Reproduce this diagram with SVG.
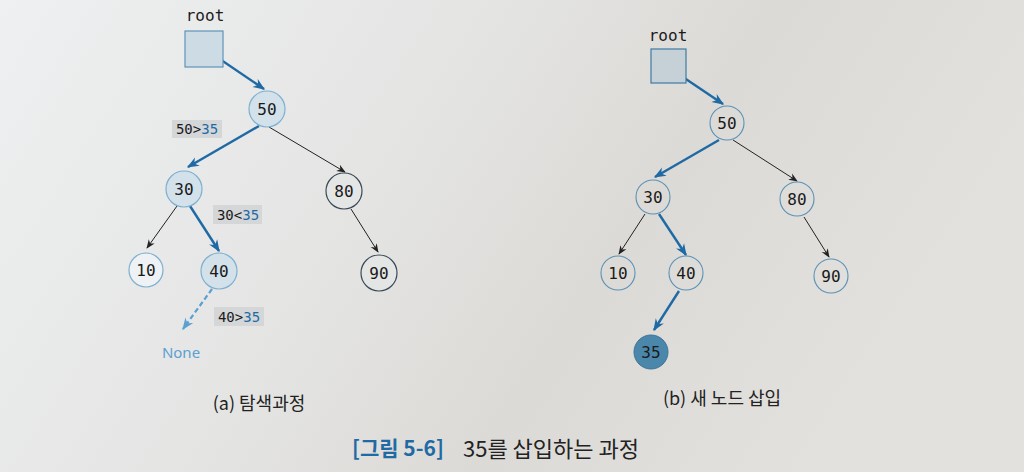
<svg xmlns="http://www.w3.org/2000/svg" width="1024" height="472" viewBox="0 0 1024 472">
<defs>
<linearGradient id="bg" x1="0" y1="0" x2="1" y2="0.3">
<stop offset="0" stop-color="#eef0f1"/>
<stop offset="0.45" stop-color="#e4e4e3"/>
<stop offset="0.7" stop-color="#dcdad6"/>
<stop offset="1" stop-color="#e2e1de"/>
</linearGradient>
<marker id="ak" viewBox="0 0 10 10" refX="9" refY="5" markerWidth="9" markerHeight="9" orient="auto" markerUnits="userSpaceOnUse">
<path d="M0,1 L10,5 L0,9 L3,5 z" fill="#222"/>
</marker>
<marker id="abl" viewBox="0 0 10 10" refX="9" refY="5" markerWidth="12" markerHeight="12" orient="auto" markerUnits="userSpaceOnUse">
<path d="M0,1 L10,5 L0,9 L3,5 z" fill="#1f6aa5"/>
</marker>
<marker id="ad" viewBox="0 0 10 10" refX="9" refY="5" markerWidth="12" markerHeight="12" orient="auto" markerUnits="userSpaceOnUse">
<path d="M0,1 L10,5 L0,9 L3,5 z" fill="#5aa0d2"/>
</marker>
</defs>
<style>
.mono{font-family:"DejaVu Sans Mono","Liberation Mono",monospace;font-size:16px;fill:#1a1a1a;text-anchor:middle;dominant-baseline:central}
.blue{stroke:#1f6aa5;stroke-width:2.4;fill:none}
.thin{stroke:#222;stroke-width:1;fill:none}
.nodeA{fill:#d2e1ea;stroke:#7eb0cf;stroke-width:1.2}
.nodeW{fill:#eef2f4;stroke:#7eb0cf;stroke-width:1.2}
.nodeK{fill:#e4e5e5;stroke:#3a4a55;stroke-width:1.2}
.nodeB{fill:none;stroke:#5a92b5;stroke-width:1.1}
.lbl{fill:#d4d6d8}
.cap{font-family:"Noto Sans CJK KR","Noto Sans",sans-serif;font-size:18px;fill:#222;text-anchor:middle;dominant-baseline:central}
.v35{fill:#1f6aa5}
</style>
<rect width="1024" height="472" fill="url(#bg)"/>

<g id="connectors">
<line class="blue" x1="205" y1="49" x2="264" y2="89" marker-end="url(#abl)"/>
<line class="blue" x1="259" y1="126" x2="188" y2="167" marker-end="url(#abl)"/>
<line class="thin" x1="269" y1="127" x2="345" y2="172" marker-end="url(#ak)"/>
<line class="thin" x1="177" y1="206" x2="147" y2="248" marker-end="url(#ak)"/>
<line class="blue" x1="190" y1="206" x2="219" y2="251" marker-end="url(#abl)"/>
<line class="thin" x1="351" y1="209" x2="378" y2="252" marker-end="url(#ak)"/>
<line stroke="#5aa0d2" stroke-width="2.2" stroke-dasharray="5,3" fill="none" x1="212" y1="289" x2="183" y2="329" marker-end="url(#ad)"/>

<line class="blue" x1="668" y1="67" x2="723" y2="104" marker-end="url(#abl)"/>
<line class="blue" x1="719" y1="140" x2="655" y2="177" marker-end="url(#abl)"/>
<line class="thin" x1="733" y1="140" x2="797" y2="181" marker-end="url(#ak)"/>
<line class="thin" x1="645" y1="214" x2="619" y2="254" marker-end="url(#ak)"/>
<line class="blue" x1="659" y1="214" x2="686" y2="255" marker-end="url(#abl)"/>
<line class="thin" x1="804" y1="217" x2="829" y2="257" marker-end="url(#ak)"/>
<line class="blue" x1="679" y1="291" x2="654" y2="330" marker-end="url(#abl)"/>
</g>

<g id="a-root">
<text class="mono" x="205" y="15">root</text>
<rect x="185" y="31" width="38" height="36" fill="#cddbe4" stroke="#5f93b8" stroke-width="1.2"/>
</g>
<g id="a-n50"><circle class="nodeA" cx="267" cy="109" r="18"/><text class="mono" x="267" y="109">50</text></g>
<g id="a-n30"><circle class="nodeA" cx="184" cy="189" r="18"/><text class="mono" x="184" y="189">30</text></g>
<g id="a-n80"><circle class="nodeK" cx="344" cy="191" r="18"/><text class="mono" x="344" y="191">80</text></g>
<g id="a-n10"><circle class="nodeW" cx="146" cy="270" r="17"/><text class="mono" x="146" y="270">10</text></g>
<g id="a-n40"><circle class="nodeA" cx="219" cy="271" r="18"/><text class="mono" x="219" y="271">40</text></g>
<g id="a-n90"><circle class="nodeK" cx="379" cy="273" r="18"/><text class="mono" x="379" y="273">90</text></g>
<g id="a-l1"><rect class="lbl" x="172" y="120" width="50" height="18"/><text class="mono" x="197" y="129" style="font-size:14px">50&gt;<tspan class="v35">35</tspan></text></g>
<g id="a-l2"><rect class="lbl" x="213" y="205" width="49" height="19"/><text class="mono" x="238" y="214.5" style="font-size:14px">30&lt;<tspan class="v35">35</tspan></text></g>
<g id="a-l3"><rect class="lbl" x="214" y="307" width="50" height="19"/><text class="mono" x="239" y="316.5" style="font-size:14px">40&gt;<tspan class="v35">35</tspan></text></g>
<g id="a-none"><text x="181" y="352" font-family="Noto Sans, sans-serif" font-size="15" fill="#5aa0d2" text-anchor="middle" dominant-baseline="central">None</text></g>
<g id="a-cap"><text class="cap" x="259" y="402">(a) 탐색과정</text></g>

<g id="b-root">
<text class="mono" x="668" y="35">root</text>
<rect x="651" y="49" width="35" height="34" fill="#c5d1d7" stroke="#3f7aa3" stroke-width="1.2"/>
</g>
<g id="b-n50"><circle class="nodeB" cx="727" cy="123" r="17"/><text class="mono" x="727" y="123">50</text></g>
<g id="b-n30"><circle class="nodeB" cx="653" cy="197" r="17"/><text class="mono" x="653" y="197">30</text></g>
<g id="b-n80"><circle class="nodeB" cx="797" cy="199" r="17"/><text class="mono" x="797" y="199">80</text></g>
<g id="b-n10"><circle class="nodeB" cx="618" cy="273" r="17"/><text class="mono" x="618" y="273">10</text></g>
<g id="b-n40"><circle class="nodeB" cx="686" cy="273" r="17"/><text class="mono" x="686" y="273">40</text></g>
<g id="b-n90"><circle class="nodeB" cx="831" cy="276" r="17"/><text class="mono" x="831" y="276">90</text></g>
<g id="b-n35"><circle cx="651" cy="352" r="17" fill="#4a87ab" stroke="#3d7599" stroke-width="1"/><text class="mono" x="651" y="352">35</text></g>
<g id="b-cap"><text class="cap" x="722" y="397">(b) 새 노드 삽입</text></g>

<g id="caption">
<text x="352" y="447" font-family="Noto Sans CJK KR, sans-serif" font-size="21" font-weight="bold" fill="#1f6aa5" dominant-baseline="central">[그림 5-6]</text>
<text x="463" y="447" font-family="Noto Sans CJK KR, sans-serif" font-size="22" fill="#222" dominant-baseline="central">35를 삽입하는 과정</text>
</g>
</svg>
